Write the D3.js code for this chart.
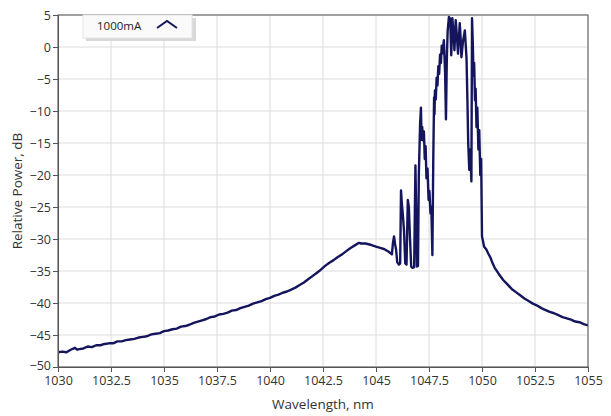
<!DOCTYPE html>
<html>
<head>
<meta charset="utf-8">
<script src="https://cdn.jsdelivr.net/npm/d3@7"></script>
<style>
  body { margin: 0; background: #fff; }
  text { font-family: "Open Sans", "Noto Sans", sans-serif; }
</style>
</head>
<body>
<svg id="chart" width="611" height="416"></svg>
<script>
var seriesName = '1000mA'
var xTicks = [1030, 1032.5, 1035, 1037.5, 1040, 1042.5, 1045, 1047.5, 1050, 1052.5, 1055]
var yTicks = [5, 0, -5, -10, -15, -20, -25, -30, -35, -40, -45, -50]

// smooth rising background, 1030 -> 1044.3 nm  [nm, dB]
var baseline = [
  [1030.0,-47.7],[1030.2,-47.6],[1030.4,-47.7],[1030.6,-47.3],[1030.8,-47.0],[1030.9,-47.3],
  [1031.0,-47.2],[1031.2,-47.1],[1031.4,-46.8],[1031.6,-46.9],[1031.8,-46.6],[1032.0,-46.6],
  [1032.2,-46.4],[1032.4,-46.3],[1032.6,-46.3],[1032.8,-46.0],[1033.0,-46.0],[1033.2,-45.8],
  [1033.4,-45.7],[1033.6,-45.6],[1033.8,-45.4],[1034.0,-45.3],[1034.2,-45.2],[1034.4,-44.9],
  [1034.6,-44.8],[1034.8,-44.7],[1035.0,-44.4],[1035.2,-44.3],[1035.4,-44.1],[1035.6,-44.0],
  [1035.8,-43.7],[1036.0,-43.6],[1036.2,-43.4],[1036.4,-43.1],[1036.6,-42.9],[1036.8,-42.7],
  [1037.0,-42.5],[1037.2,-42.2],[1037.4,-42.1],[1037.6,-41.8],[1037.8,-41.7],[1038.0,-41.5],
  [1038.2,-41.2],[1038.4,-41.1],[1038.6,-40.8],[1038.8,-40.6],[1039.0,-40.4],[1039.2,-40.1],
  [1039.4,-39.9],[1039.6,-39.7],[1039.8,-39.4],[1040.0,-39.2],[1040.2,-38.9],[1040.4,-38.7],
  [1040.6,-38.4],[1040.8,-38.2],[1041.0,-37.9],[1041.2,-37.6],[1041.4,-37.2],[1041.6,-36.8],
  [1041.8,-36.3],[1042.0,-35.8],[1042.2,-35.3],[1042.4,-34.8],[1042.6,-34.2],[1042.8,-33.7],
  [1043.0,-33.3],[1043.2,-32.8],[1043.4,-32.4],[1043.6,-31.9],[1043.8,-31.4],[1044.0,-31.0],
  [1044.2,-30.6],[1044.3,-30.7]
]

// modulation / lasing region, 1044.5 -> 1050.3 nm
var lasing = [
  [1044.5,-30.7],[1044.75,-30.9],[1045.0,-31.2],[1045.2,-31.4],[1045.4,-31.6],[1045.6,-32.0],
  [1045.75,-32.4],[1045.8,-30.6],[1045.85,-29.6],[1045.9,-30.8],[1045.95,-31.7],[1046.0,-33.6],
  [1046.08,-34.0],[1046.14,-33.8],[1046.18,-22.4],[1046.22,-24.5],[1046.26,-26.0],[1046.32,-28.6],
  [1046.38,-33.8],[1046.44,-34.0],[1046.5,-23.9],[1046.55,-25.0],[1046.6,-29.6],[1046.66,-34.3],
  [1046.72,-34.5],[1046.8,-34.4],[1046.86,-18.5],[1046.9,-27.0],[1046.93,-34.3],[1046.98,-34.2],
  [1047.02,-20.0],[1047.08,-12.0],[1047.12,-9.5],[1047.15,-14.5],[1047.18,-12.5],[1047.22,-14.6],
  [1047.26,-13.2],[1047.3,-17.5],[1047.34,-15.5],[1047.38,-20.5],[1047.43,-19.0],[1047.48,-23.9],
  [1047.52,-22.5],[1047.57,-26.0],[1047.61,-25.0],[1047.66,-32.5],[1047.7,-18.0],[1047.74,-7.9],
  [1047.76,-10.5],[1047.78,-6.8],[1047.82,-8.2],[1047.86,-4.8],[1047.9,-6.0],[1047.94,-3.0],
  [1047.98,-4.2],[1048.02,-1.2],[1048.06,-2.5],[1048.1,0.2],[1048.14,-1.0],[1048.2,1.05],
  [1048.26,-4.0],[1048.3,-11.3],[1048.34,-2.0],[1048.38,2.5],[1048.44,4.7],[1048.5,4.4],
  [1048.55,-1.3],[1048.6,4.5],[1048.66,2.0],[1048.7,-0.5],[1048.76,4.2],[1048.82,1.5],
  [1048.87,-1.05],[1048.95,3.7],[1049.0,1.0],[1049.03,-1.6],[1049.1,0.8],[1049.19,2.6],
  [1049.23,0.5],[1049.27,-1.8],[1049.31,-8.0],[1049.35,-15.0],[1049.4,-19.2],[1049.45,-16.0],
  [1049.5,-21.0],[1049.53,4.5],[1049.57,0.0],[1049.6,-4.5],[1049.63,-2.5],[1049.67,-8.3],
  [1049.7,-6.5],[1049.74,-12.5],[1049.78,-9.5],[1049.83,-16.0],[1049.87,-13.0],[1049.92,-20.0],
  [1049.96,-17.5],[1050.0,-29.6],[1050.05,-30.4],[1050.1,-31.2],[1050.2,-31.6],[1050.3,-32.3]
]

// falling tail, 1050.4 -> 1055 nm
var tail = [
  [1050.4,-32.9],[1050.5,-33.8],[1050.6,-34.5],[1050.8,-35.5],[1051.0,-36.4],[1051.2,-37.1],
  [1051.4,-37.8],[1051.6,-38.3],[1051.8,-38.8],[1052.0,-39.3],[1052.2,-39.7],[1052.4,-40.1],
  [1052.6,-40.4],[1052.8,-40.8],[1053.0,-41.1],[1053.2,-41.4],[1053.4,-41.6],[1053.6,-41.9],
  [1053.8,-42.2],[1054.0,-42.4],[1054.2,-42.6],[1054.4,-42.9],[1054.6,-43.0],[1054.8,-43.3],
  [1055.0,-43.5]
]

var spectrum = baseline.concat(lasing, tail)

var margin = {left: 58, top: 15, right: 23, bottom: 49}
var width = 611 - margin.left - margin.right
var height = 416 - margin.top - margin.bottom
var lineColor = '#15155e'

var svg = d3.select('#chart')
var g = svg.append('g').attr('transform', 'translate(' + margin.left + ',' + margin.top + ')')

var x = d3.scaleLinear().domain([1030, 1055]).range([0, width])
var y = d3.scaleLinear().domain([-50, 5]).range([height, 0])

// grid
g.append('g').selectAll('line').data(xTicks).join('line')
  .attr('x1', d => x(d)).attr('x2', d => x(d)).attr('y1', 0).attr('y2', height)
  .attr('stroke', '#dcdcdc').attr('stroke-width', 1)
g.append('g').selectAll('line').data(yTicks).join('line')
  .attr('y1', d => y(d)).attr('y2', d => y(d)).attr('x1', 0).attr('x2', width)
  .attr('stroke', '#dcdcdc').attr('stroke-width', 1)

// data
svg.append('defs').append('clipPath').attr('id', 'clip')
  .append('rect').attr('width', width).attr('height', height)

var line = d3.line().x(d => x(d[0])).y(d => y(d[1]))
g.append('path').datum(spectrum)
  .attr('clip-path', 'url(#clip)')
  .attr('fill', 'none').attr('stroke', lineColor).attr('stroke-width', 2.4)
  .attr('stroke-linejoin', 'round')
  .attr('d', line)

// frame
g.append('rect').attr('width', width).attr('height', height)
  .attr('fill', 'none').attr('stroke', '#555').attr('stroke-width', 1)

// axes
var fmt = d => (d % 1 ? d.toFixed(1) : d)
var xAxis = g.append('g').attr('transform', 'translate(0,' + height + ')')
  .call(d3.axisBottom(x).tickValues(xTicks).tickFormat(fmt).tickSize(5).tickPadding(4))
var yAxis = g.append('g')
  .call(d3.axisLeft(y).tickValues(yTicks).tickSize(5).tickPadding(2))
;[xAxis, yAxis].forEach(a => {
  a.select('.domain').attr('stroke', '#555')
  a.selectAll('.tick line').attr('stroke', '#555')
  a.selectAll('.tick text').attr('fill', '#333').style('font-size', '12.5px')
    .style('font-family', '"Open Sans", "Noto Sans", sans-serif')
})
// keep the bottom y label clear of the first x label
yAxis.selectAll('.tick text').filter(d => d === -50).attr('dy', '0.2em')

svg.append('text').attr('x', margin.left + width / 2).attr('y', 409)
  .attr('text-anchor', 'middle').attr('fill', '#333').style('font-size', '13.5px')
  .text('Wavelength, nm')
svg.append('text').attr('transform', 'translate(22,' + (margin.top + height / 2) + ') rotate(-90)')
  .attr('text-anchor', 'middle').attr('fill', '#333').style('font-size', '13.5px')
  .text('Relative Power, dB')

// legend
var lg = svg.append('g').attr('transform', 'translate(83,15)')
lg.append('rect').attr('x', 3).attr('y', 3).attr('width', 110).attr('height', 23)
  .attr('fill', '#d8d8d8')
lg.append('rect').attr('width', 109).attr('height', 23)
  .attr('fill', '#fafafa').attr('stroke', '#e4e4e4')
lg.append('text').attr('x', 14).attr('y', 15).attr('fill', '#222')
  .style('font-size', '11.5px').text(seriesName)
lg.append('path').attr('d', 'M74,13 L84,6 L94,13')
  .attr('fill', 'none').attr('stroke', lineColor).attr('stroke-width', 2)
</script>
</body>
</html>
